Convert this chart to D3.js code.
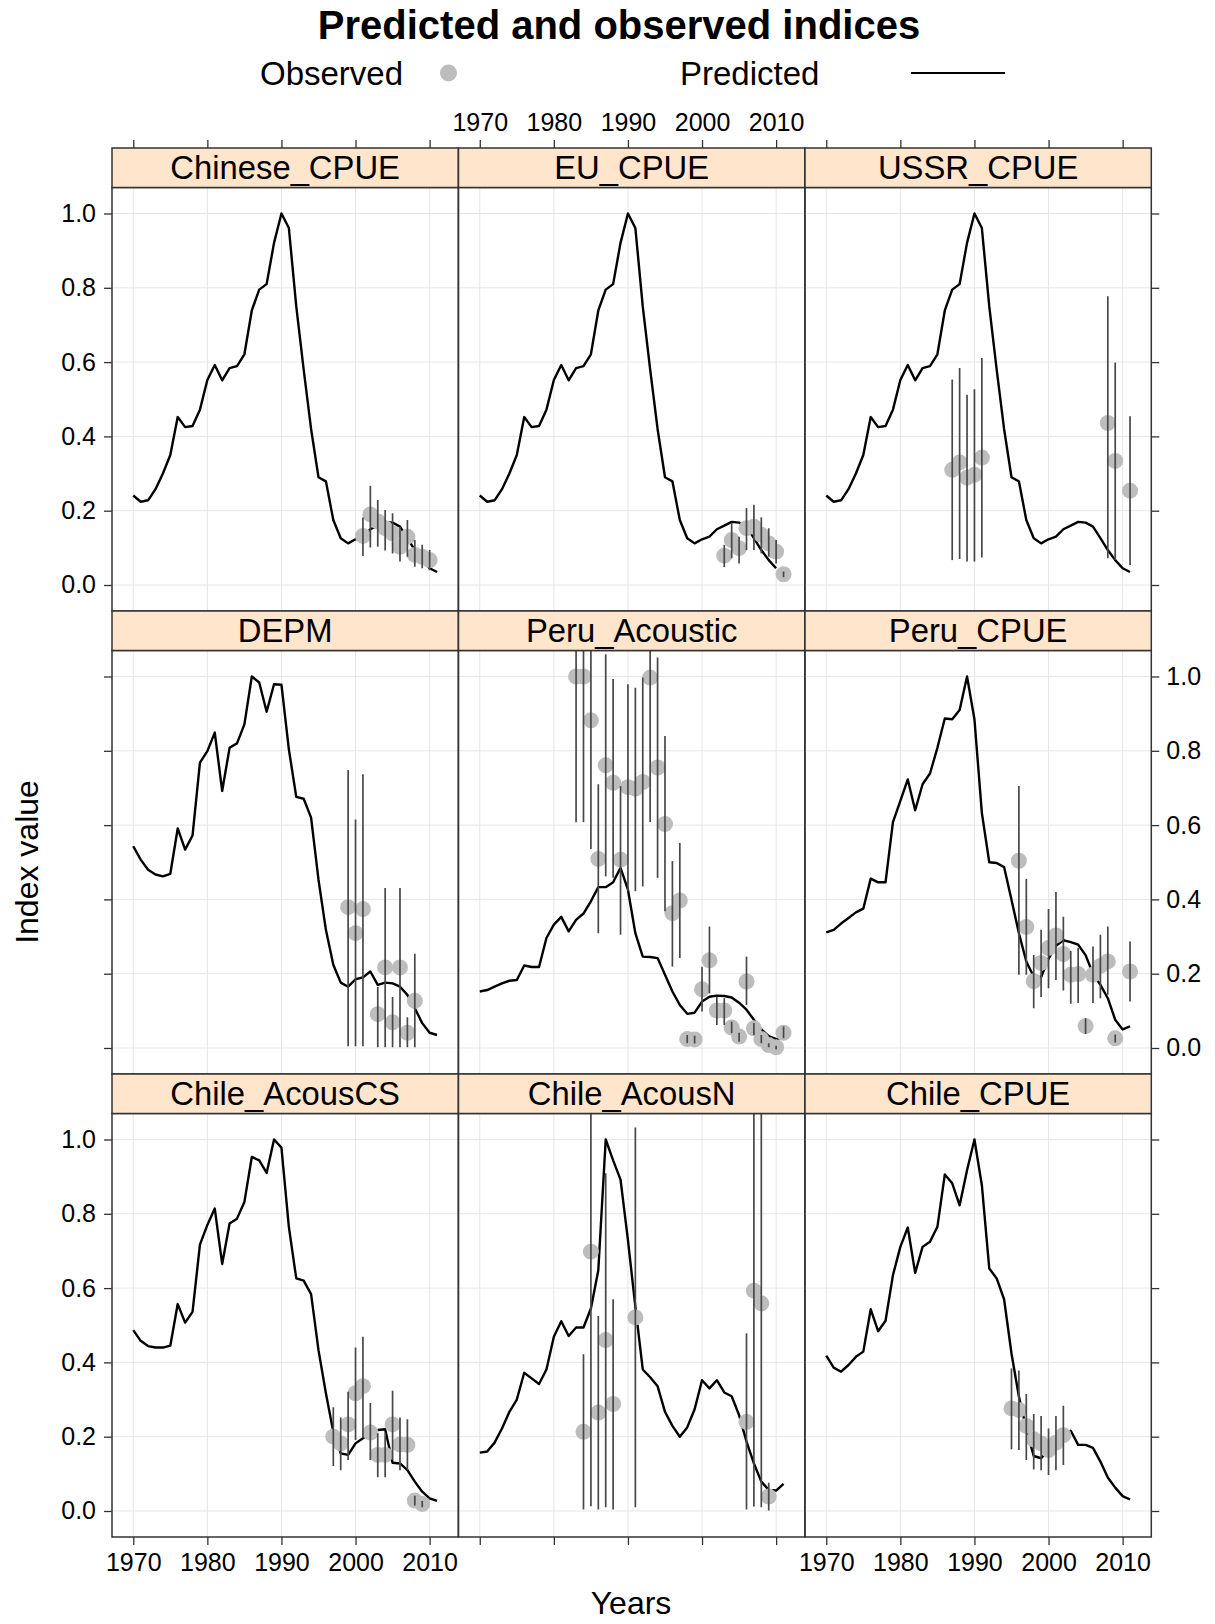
<!DOCTYPE html>
<html>
<head>
<meta charset="utf-8">
<script src="https://cdn.jsdelivr.net/npm/d3@7"></script>
<style>
body { margin: 0; background: #fff; }
svg text { font-family: "Liberation Sans", Arial, sans-serif; fill: #000; }
</style>
</head>
<body>
<div id="content"></div>
<script>
// years of the predicted series
var years = [1970,1971,1972,1973,1974,1975,1976,1977,1978,1979,
	1980,1981,1982,1983,1984,1985,1986,1987,1988,1989,
	1990,1991,1992,1993,1994,1995,1996,1997,1998,1999,
	2000,2001,2002,2003,2004,2005,2006,2007,2008,2009,
	2010,2011];

// predicted indices (scaled to max 1)
var predCPUE = [0.241,0.224,0.228,0.258,0.300,0.350,0.452,0.425,0.428,0.472,
	0.552,0.592,0.551,0.584,0.589,0.621,0.739,0.795,0.810,0.921,
	1.000,0.961,0.750,0.580,0.420,0.290,0.279,0.175,0.126,0.112,
	0.123,0.130,0.150,0.160,0.170,0.168,0.157,0.126,0.094,0.067,
	0.045,0.035];
var predDEPM = [0.543,0.507,0.480,0.467,0.462,0.469,0.591,0.534,0.572,0.768,
	0.799,0.849,0.692,0.808,0.820,0.871,1.000,0.984,0.905,0.979,
	0.978,0.804,0.676,0.671,0.620,0.453,0.318,0.224,0.176,0.165,
	0.185,0.190,0.206,0.170,0.176,0.174,0.165,0.143,0.107,0.067,
	0.041,0.035];
var predPeruAc = [0.152,0.156,0.165,0.174,0.181,0.183,0.222,0.218,0.218,0.296,
	0.332,0.353,0.314,0.345,0.362,0.395,0.433,0.433,0.446,0.485,
	0.426,0.309,0.246,0.245,0.242,0.197,0.152,0.116,0.092,0.095,
	0.125,0.138,0.141,0.140,0.136,0.122,0.103,0.076,0.050,0.032,
	0.024,0.028];
var predPeruCPUE = [0.311,0.318,0.335,0.350,0.365,0.375,0.456,0.446,0.446,0.608,
	0.665,0.723,0.640,0.710,0.739,0.808,0.887,0.885,0.910,1.000,
	0.885,0.633,0.500,0.498,0.487,0.399,0.309,0.233,0.192,0.191,
	0.240,0.275,0.290,0.285,0.278,0.250,0.200,0.170,0.134,0.076,
	0.050,0.058];
var predChileCS = [0.487,0.458,0.444,0.440,0.440,0.445,0.557,0.507,0.536,0.717,
	0.770,0.814,0.665,0.774,0.787,0.832,0.953,0.944,0.910,1.000,
	0.978,0.765,0.626,0.620,0.584,0.433,0.317,0.213,0.155,0.151,
	0.182,0.196,0.205,0.218,0.220,0.130,0.128,0.110,0.079,0.052,
	0.034,0.027];
var predChileN = [0.157,0.160,0.184,0.222,0.267,0.300,0.372,0.357,0.342,0.381,
	0.469,0.511,0.471,0.494,0.494,0.545,0.648,1.000,0.944,0.892,
	0.729,0.550,0.381,0.360,0.336,0.267,0.229,0.200,0.225,0.274,
	0.352,0.330,0.352,0.319,0.309,0.258,0.187,0.128,0.079,0.057,
	0.055,0.073];
var predChileCPUE = [0.418,0.386,0.375,0.393,0.415,0.429,0.543,0.484,0.512,0.635,
	0.711,0.763,0.641,0.711,0.725,0.765,0.906,0.882,0.823,0.917,
	1.000,0.877,0.653,0.626,0.570,0.424,0.308,0.220,0.148,0.142,
	0.164,0.182,0.200,0.216,0.178,0.178,0.170,0.133,0.090,0.063,
	0.040,0.031];

// observed: [year, value, lower, upper]
var obsChinese = [[2001,0.132,0.078,0.182],[2002,0.190,0.101,0.267],[2003,0.171,0.103,0.229],
	[2004,0.153,0.093,0.202],[2005,0.139,0.085,0.193],[2006,0.103,0.063,0.157],[2007,0.130,0.076,0.175],
	[2008,0.081,0.049,0.121],[2009,0.076,0.045,0.108],[2010,0.067,0.040,0.094]];
var obsEU = [[2003,0.079,0.048,0.108],[2004,0.121,0.072,0.166],[2005,0.099,0.058,0.130],
	[2006,0.153,0.094,0.207],[2007,0.157,0.094,0.216],[2008,0.135,0.085,0.182],[2009,0.112,0.076,0.153],
	[2010,0.090,0.058,0.121],[2011,0.029,0.021,0.036]];
var obsUSSR = [[1987,0.310,0.067,0.553],[1988,0.330,0.070,0.584],[1989,0.289,0.063,0.512],
	[1990,0.297,0.063,0.527],[1991,0.343,0.074,0.611],[2008,0.436,0.072,0.777],[2009,0.334,0.067,0.599],
	[2011,0.254,0.054,0.454]];
var obsDEPM = [[1999,0.379,0.005,0.748],[2000,0.309,0.005,0.615],[2001,0.374,0.005,0.737],
	[2003,0.091,0.002,0.165],[2004,0.217,0.002,0.431],[2005,0.069,0.002,0.137],[2006,0.217,0.002,0.431],
	[2007,0.041,0.002,0.083],[2008,0.127,0.002,0.254]];
var obsPeruAc = [[1983,1.000,0.608,1.250],[1984,1.000,0.608,1.250],[1985,0.882,0.536,1.250],
	[1986,0.509,0.309,0.710],[1987,0.761,0.462,1.060],[1988,0.714,0.458,0.993],[1989,0.507,0.305,0.705],
	[1990,0.702,0.422,0.979],[1991,0.698,0.422,0.970],[1992,0.716,0.435,0.997],[1993,0.997,0.608,1.250],
	[1994,0.755,0.458,1.051],[1995,0.603,0.368,0.840],[1996,0.363,0.219,0.503],[1997,0.397,0.242,0.552],
	[1998,0.024,0.013,0.035],[1999,0.023,0.012,0.033],[2000,0.158,0.098,0.219],[2001,0.236,0.147,0.327],
	[2002,0.101,0.062,0.138],[2003,0.101,0.062,0.134],[2004,0.055,0.040,0.071],[2005,0.031,0.017,0.041],
	[2006,0.179,0.116,0.246],[2007,0.053,0.035,0.067],[2008,0.024,0.013,0.035],[2009,0.008,0.002,0.013],
	[2010,0.002,-0.004,0.006],[2011,0.041,0.026,0.058]];
var obsPeruCPUE = [[1996,0.504,0.197,0.705],[1997,0.326,0.197,0.455],[1998,0.180,0.107,0.250],
	[1999,0.229,0.137,0.318],[2000,0.269,0.161,0.374],[2001,0.303,0.183,0.420],[2002,0.253,0.155,0.353],
	[2003,0.197,0.119,0.261],[2004,0.199,0.121,0.269],[2005,0.059,0.038,0.080],[2006,0.197,0.121,0.273],
	[2007,0.221,0.134,0.305],[2008,0.233,0.143,0.327],[2009,0.026,0.015,0.036],[2011,0.206,0.125,0.287]];
var obsChileCS = [[1997,0.200,0.121,0.279],[1998,0.182,0.110,0.252],[1999,0.233,0.137,0.321],
	[2000,0.317,0.191,0.440],[2001,0.336,0.196,0.469],[2002,0.211,0.137,0.291],[2003,0.151,0.091,0.209],
	[2004,0.151,0.091,0.211],[2005,0.233,0.137,0.324],[2006,0.179,0.110,0.252],[2007,0.178,0.110,0.247],
	[2008,0.028,0.015,0.041],[2009,0.019,0.010,0.027]];
var obsChileN = [[1984,0.213,0.004,0.422],[1985,0.698,0.013,1.250],[1986,0.265,0.004,0.525],
	[1987,0.460,0.010,0.909],[1988,0.288,0.004,0.570],[1991,0.521,0.010,1.032],[2006,0.240,0.004,0.478],
	[2007,0.593,0.012,1.250],[2008,0.559,0.010,1.250],[2009,0.039,0.001,0.076]];
var obsChileCPUE = [[1995,0.276,0.166,0.384],[1996,0.272,0.164,0.378],[1997,0.229,0.137,0.315],
	[1998,0.193,0.112,0.261],[1999,0.182,0.110,0.256],[2000,0.164,0.097,0.222],[2001,0.184,0.110,0.256],
	[2002,0.204,0.124,0.283]];

var panelNames = ["Chinese_CPUE", "EU_CPUE", "USSR_CPUE",
	"DEPM", "Peru_Acoustic", "Peru_CPUE",
	"Chile_AcousCS", "Chile_AcousN", "Chile_CPUE"];
var panelPred = [predCPUE, predCPUE.slice(0, 41), predCPUE,
	predDEPM, predPeruAc, predPeruCPUE,
	predChileCS, predChileN, predChileCPUE];
var panelObs = [obsChinese, obsEU, obsUSSR,
	obsDEPM, obsPeruAc, obsPeruCPUE,
	obsChileCS, obsChileN, obsChileCPUE];

var xTicks = [1970, 1980, 1990, 2000, 2010];
var yTicks = [0, 0.2, 0.4, 0.6, 0.8, 1.0];

function main() {
	var width = 1215, height = 1624;
	var colX = [112, 458.5, 805];
	var panelW = 346.3;
	var rowTop = [148, 611, 1074];
	var stripH = 39.5;
	var panelH = 423.5;
	var tickLen = 8;

	var svg = d3.select("#content").append("svg")
		.attr("width", width)
		.attr("height", height);

	var x = d3.scaleLinear().domain([1967.13, 2013.87]).range([0, panelW]);
	var y = d3.scaleLinear().domain([-0.07, 1.07]).range([panelH, 0]);

	// title
	svg.append("text")
		.attr("x", 619).attr("y", 39)
		.attr("text-anchor", "middle")
		.attr("font-size", 40).attr("font-weight", "bold")
		.text("Predicted and observed indices");

	// legend
	svg.append("text").attr("x", 260).attr("y", 85).attr("font-size", 33).text("Observed");
	svg.append("circle").attr("cx", 448.5).attr("cy", 73).attr("r", 8.5).attr("fill", "#bdbdbd");
	svg.append("text").attr("x", 680).attr("y", 85).attr("font-size", 33).text("Predicted");
	svg.append("line").attr("x1", 911).attr("x2", 1005).attr("y1", 73).attr("y2", 73)
		.attr("stroke", "#000").attr("stroke-width", 2.2);

	var line = d3.line()
		.x(function (d) { return x(d[0]); })
		.y(function (d) { return y(d[1]); });

	for (var i = 0; i < panelNames.length; i++) {
		var col = i % 3, row = Math.floor(i / 3);
		var px = colX[col], py = rowTop[row] + stripH;

		var g = svg.append("g").attr("transform", "translate(" + px + "," + py + ")");

		g.append("clipPath").attr("id", "clip" + i)
			.append("rect").attr("width", panelW).attr("height", panelH);

		var inner = g.append("g").attr("clip-path", "url(#clip" + i + ")");

		// grid
		inner.selectAll(".vg").data(xTicks).enter().append("line")
			.attr("x1", x).attr("x2", x).attr("y1", 0).attr("y2", panelH)
			.attr("stroke", "#e6e6e6").attr("stroke-width", 1);
		inner.selectAll(".hg").data(yTicks).enter().append("line")
			.attr("y1", y).attr("y2", y).attr("x1", 0).attr("x2", panelW)
			.attr("stroke", "#e6e6e6").attr("stroke-width", 1);

		// predicted line
		var pts = panelPred[i].map(function (v, k) { return [years[k], v]; });
		inner.append("path").datum(pts)
			.attr("d", line)
			.attr("fill", "none")
			.attr("stroke", "#000")
			.attr("stroke-width", 2.4)
			.attr("stroke-linejoin", "round");

		// observed points
		inner.selectAll(".obs").data(panelObs[i]).enter().append("circle")
			.attr("cx", function (d) { return x(d[0]); })
			.attr("cy", function (d) { return y(d[1]); })
			.attr("r", 8)
			.attr("fill", "#bdbdbd");

		// error bars
		inner.selectAll(".bar").data(panelObs[i]).enter().append("line")
			.attr("x1", function (d) { return x(d[0]); })
			.attr("x2", function (d) { return x(d[0]); })
			.attr("y1", function (d) { return y(d[2]); })
			.attr("y2", function (d) { return y(d[3]); })
			.attr("stroke", "#484848")
			.attr("stroke-width", 1.7);

		// panel border
		g.append("rect").attr("width", panelW).attr("height", panelH)
			.attr("fill", "none").attr("stroke", "#333").attr("stroke-width", 1.5);

		// strip
		var s = svg.append("g").attr("transform", "translate(" + px + "," + rowTop[row] + ")");
		s.append("rect").attr("width", panelW).attr("height", stripH)
			.attr("fill", "#ffe5cc").attr("stroke", "#333").attr("stroke-width", 1.5);
		s.append("text")
			.attr("x", panelW / 2).attr("y", 31)
			.attr("text-anchor", "middle")
			.attr("font-size", 32.8)
			.text(panelNames[i]);

		// left / right axes
		if (col === 0) {
			var la = svg.append("g").attr("transform", "translate(" + px + "," + py + ")")
				.call(d3.axisLeft(y).tickValues(yTicks).tickSize(tickLen).tickPadding(8)
					.tickFormat(row === 1 ? "" : d3.format(".1f")));
			styleAxis(la);
		}
		if (col === 2) {
			var ra = svg.append("g").attr("transform", "translate(" + (px + panelW) + "," + py + ")")
				.call(d3.axisRight(y).tickValues(yTicks).tickSize(tickLen).tickPadding(7)
					.tickFormat(row === 1 ? d3.format(".1f") : ""));
			styleAxis(ra);
		}
		// top / bottom axes
		if (row === 0) {
			var ta = svg.append("g").attr("transform", "translate(" + px + "," + rowTop[0] + ")")
				.call(d3.axisTop(x).tickValues(xTicks).tickSize(tickLen).tickPadding(9)
					.tickFormat(col === 1 ? d3.format("d") : ""));
			styleAxis(ta);
		}
		if (row === 2) {
			var ba = svg.append("g").attr("transform", "translate(" + px + "," + (py + panelH) + ")")
				.call(d3.axisBottom(x).tickValues(xTicks).tickSize(tickLen).tickPadding(8)
					.tickFormat(col === 1 ? "" : d3.format("d")));
			styleAxis(ba);
		}
	}

	// axis titles
	svg.append("text")
		.attr("transform", "translate(38,862) rotate(-90)")
		.attr("text-anchor", "middle")
		.attr("font-size", 32)
		.text("Index value");
	svg.append("text")
		.attr("x", 631).attr("y", 1614)
		.attr("text-anchor", "middle")
		.attr("font-size", 32)
		.text("Years");
}

function styleAxis(a) {
	a.select(".domain").remove();
	a.attr("font-size", 25).attr("font-family", "\"Liberation Sans\", Arial, sans-serif");
	a.selectAll(".tick line").attr("stroke", "#333").attr("stroke-width", 1.3);
	a.selectAll(".tick text").attr("fill", "#000");
}

main();
</script>
</body>
</html>
